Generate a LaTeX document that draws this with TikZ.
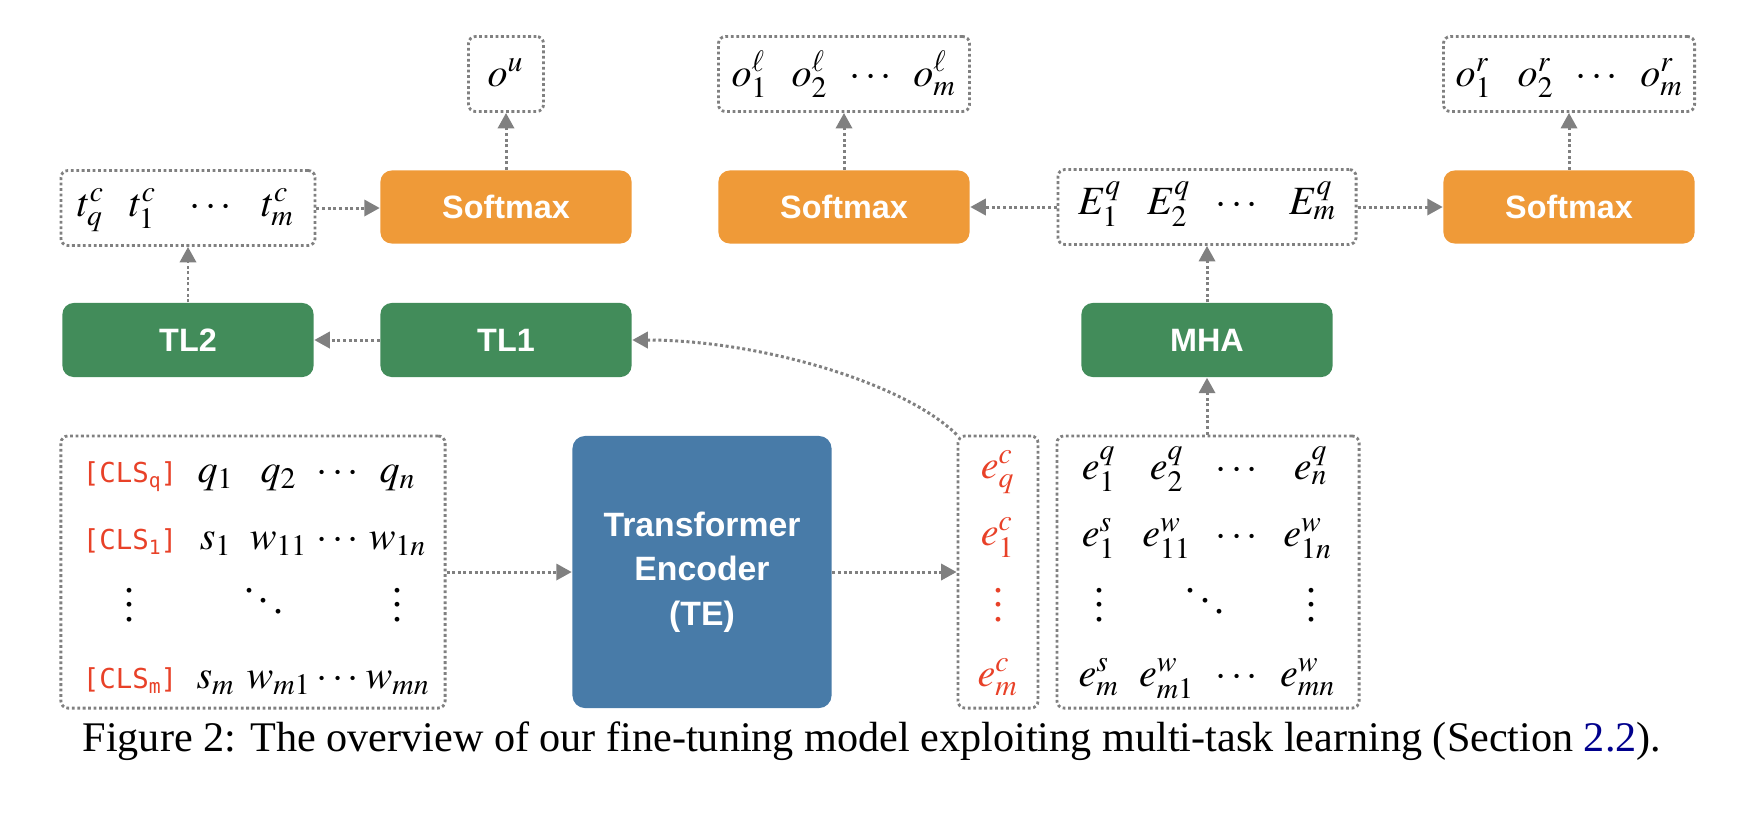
\documentclass[tikz,border=0pt]{standalone}
\usepackage{mathptmx}
\usepackage{fontspec}
\setmainfont{Liberation Serif}
\setsansfont{Liberation Sans}
\newfontfamily\clsfont{DejaVu Sans Mono}
\usetikzlibrary{arrows.meta}
\definecolor{smorange}{RGB}{239,154,56}
\definecolor{tlgreen}{RGB}{66,140,90}
\definecolor{teblue}{RGB}{72,123,168}
\definecolor{embred}{RGB}{232,65,40}
\definecolor{arrowgray}{RGB}{128,128,128}
\definecolor{linkblue}{RGB}{0,0,140}
\newcommand{\clstok}[1]{\textcolor{embred}{\clsfont\fontsize{7.8}{8}\selectfont[CLS\raisebox{-0.35ex}{\fontsize{5.6}{6}\selectfont #1}]}}

\begin{document}
\begin{tikzpicture}[x=0.01cm, y=-0.01cm,
		box/.style={rounded corners=3.2pt, text=white, align=center, inner sep=0pt,
			font=\fontsize{9.2}{12.5}\selectfont\sffamily\bfseries},
		softmax/.style={box, fill=smorange, minimum width=2.51cm, minimum height=0.73cm},
		layer/.style={box, fill=tlgreen, minimum width=2.51cm, minimum height=0.74cm},
		vec/.style={draw=arrowgray, line width=0.8pt, dash pattern=on 0.8pt off 0.75pt,
			rounded corners=2pt, inner sep=0pt, minimum height=0.75cm},
		cell/.style={anchor=base, inner sep=0pt, font=\fontsize{11.4}{13}\selectfont},
		flow/.style={draw=arrowgray, line width=0.85pt, dash pattern=on 0.85pt off 0.75pt,
			-{Triangle[length=4.4pt, width=4.6pt]}}]
	\useasboundingbox (0,0) rectangle (1746,814);

	\node[vec, minimum width=0.75cm] (ou) at (506,74) {};
	\node[vec, minimum width=2.51cm] (ol) at (844,74) {};
	\node[vec, minimum width=2.51cm] (or) at (1569,74) {};
	\node[vec, minimum width=2.54cm] (tbox) at (188,208) {};
	\node[softmax] (sm1) at (506,207) {Softmax};
	\node[softmax] (sm2) at (844,207) {Softmax};
	\node[vec, minimum width=2.98cm] (Ebox) at (1207,207) {};
	\node[softmax] (sm3) at (1569,207) {Softmax};
	\node[layer] (tl2) at (188,340) {TL2};
	\node[layer] (tl1) at (506,340) {TL1};
	\node[layer] (mha) at (1207,340) {MHA};
	\node[vec, minimum width=3.84cm, minimum height=2.72cm] (inbox) at (253,572) {};
	\node[box, fill=teblue, rounded corners=3.6pt, minimum width=2.59cm, minimum height=2.72cm,
		font=\fontsize{9.6}{12.6}\selectfont\sffamily\bfseries] (te) at (702,572) {Transformer\\Encoder\\(TE)};
	\node[vec, minimum width=0.8cm, minimum height=2.72cm] (ecbox) at (998,572) {};
	\node[vec, minimum width=3.02cm, minimum height=2.72cm] (ebox) at (1208,572) {};

	\foreach \n/\x/\y/\t in {
		ou-1/506/86/{$o^u$},
		ol-1/750/86/{$o^\ell_1$}, ol-2/810/86/{$o^\ell_2$}, ol-3/871/86/{$\cdots$}, ol-4/935/86/{$o^\ell_m$},
		or-1/1474/86/{$o^r_1$}, or-2/1536/86/{$o^r_2$}, or-3/1597/86/{$\cdots$}, or-4/1662/86/{$o^r_m$},
		t-1/91/216/{$t^c_q$}, t-2/143/216/{$t^c_1$}, t-3/211/216/{$\cdots$}, t-4/278/216/{$t^c_m$},
		E-1/1100/214/{$E^q_1$}, E-2/1169/214/{$E^q_2$}, E-3/1237/214/{$\cdots$}, E-4/1313/214/{$E^q_m$}}
		\node[cell] (\n) at (\x,\y) {\t};

	\foreach \n/\x/\y/\t in {
		in-1-1/130/482/{\clstok{q}}, in-1-2/216/482/{$q_1$}, in-1-3/279/482/{$q_2$},
		in-1-4/338/482/{$\cdots$}, in-1-5/398/482/{$q_n$},
		in-2-1/130/549/{\clstok{1}}, in-2-2/216/549/{$s_1$}, in-2-3/279/549/{$w_{11}$},
		in-2-4/338/549/{$\cdots$}, in-2-5/398/549/{$w_{1n}$},
		in-3-1/130/621/{$\vdots$}, in-3-3/264/617/{$\ddots$}, in-3-5/398/621/{$\vdots$},
		in-4-1/130/688/{\clstok{m}}, in-4-2/216/688/{$s_m$}, in-4-3/279/688/{$w_{m1}$},
		in-4-4/338/688/{$\cdots$}, in-4-5/398/688/{$w_{mn}$}}
		\node[cell] (\n) at (\x,\y) {\t};

	\foreach \n/\x/\y/\t in {
		ec-1/998/478/{$e^c_q$}, ec-2/998/545/{$e^c_1$}, ec-3/998/621/{$\vdots$}, ec-4/998/686/{$e^c_m$}}
		\node[cell, text=embred] (\n) at (\x,\y) {\t};

	\foreach \n/\x/\y/\t in {
		e-1-1/1099/479/{$e^q_1$}, e-1-2/1167/479/{$e^q_2$}, e-1-3/1237/479/{$\cdots$}, e-1-4/1311/479/{$e^q_n$},
		e-2-1/1099/546/{$e^s_1$}, e-2-2/1167/546/{$e^w_{11}$}, e-2-3/1237/546/{$\cdots$}, e-2-4/1308/546/{$e^w_{1n}$},
		e-3-1/1099/621/{$\vdots$}, e-3-2/1205/617/{$\ddots$}, e-3-4/1311/621/{$\vdots$},
		e-4-1/1099/686/{$e^s_m$}, e-4-2/1167/686/{$e^w_{m1}$}, e-4-3/1237/686/{$\cdots$}, e-4-4/1308/686/{$e^w_{mn}$}}
		\node[cell] (\n) at (\x,\y) {\t};

	\draw[flow] (sm1.north) -- (ou.south);
	\draw[flow] (sm2.north) -- (ol.south);
	\draw[flow] (sm3.north) -- (or.south);
	\draw[flow] (tbox.east) -- (tbox.east -| sm1.west);
	\draw[flow] (Ebox.west) -- (Ebox.west -| sm2.east);
	\draw[flow] (Ebox.east) -- (Ebox.east -| sm3.west);
	\draw[flow] (tl2.north) -- (tbox.south);
	\draw[flow] (tl1.west) -- (tl2.east);
	\draw[flow] (mha.north) -- (Ebox.south);
	\draw[flow] (ebox.north -| mha.south) -- (mha.south);
	\draw[flow] (inbox.east) -- (te.west);
	\draw[flow] (te.east) -- (ecbox.west);
	\draw[flow] (ecbox.north west) .. controls +(-53,-52) and +(127,0) .. (tl1.east);

	\node[font=\fontsize{12}{14}\selectfont] (caption) at (872,741)
		{Figure 2: The overview of our fine-tuning model exploiting multi-task learning (Section \textcolor{linkblue}{2.2}).};
\end{tikzpicture}
\end{document}
